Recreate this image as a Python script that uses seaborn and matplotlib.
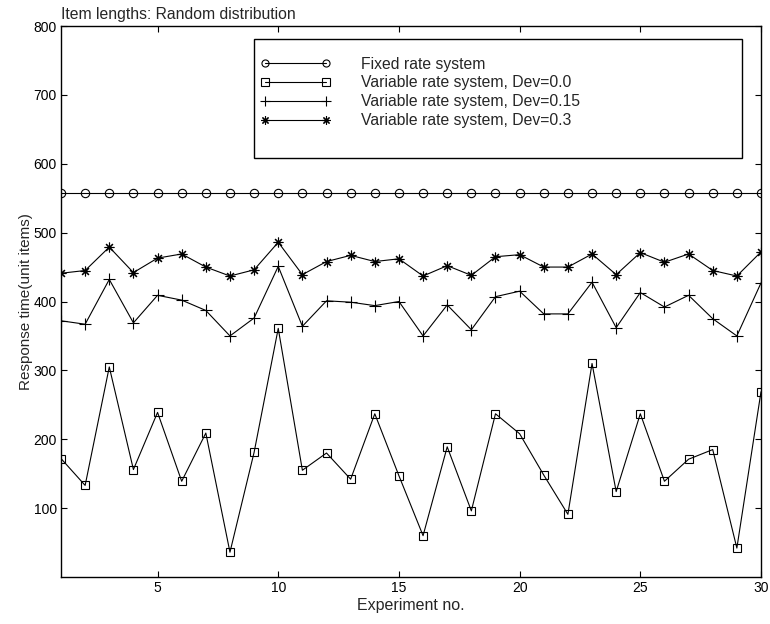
import matplotlib
matplotlib.use("Agg")
import matplotlib.pyplot as plt
from matplotlib.patches import Rectangle
import seaborn as sns
import numpy as np
import pandas as pd

experiments = list(range(1, 31))
fixed_rate = [557] * 30
dev_00 = [172, 133, 305, 156, 239, 139, 209, 36, 181, 361,
          155, 180, 142, 237, 147, 60, 189, 96, 237, 208,
          148, 91, 310, 124, 237, 139, 171, 185, 42, 269]
dev_015 = [372, 367, 432, 369, 409, 402, 387, 350, 376, 451,
           364, 401, 399, 394, 400, 350, 395, 359, 407, 415,
           382, 382, 428, 362, 413, 392, 409, 375, 350, 427]
dev_03 = [441, 445, 479, 442, 463, 469, 450, 437, 446, 486,
          439, 458, 467, 458, 462, 437, 452, 438, 465, 468,
          450, 450, 469, 439, 471, 457, 469, 445, 437, 472]
labels = ["Fixed rate system",
          "Variable rate system, Dev=0.0",
          "Variable rate system, Dev=0.15",
          "Variable rate system, Dev=0.3"]
xticks = [5, 10, 15, 20, 25, 30]
yticks = [100, 200, 300, 400, 500, 600, 700, 800]

sns.set_style("ticks")
plt.rcParams['font.family'] = ['Liberation Sans', 'DejaVu Sans']
plt.rcParams['font.size'] = 10

W, H = 770, 624
L, R, T, B = 61, 761, 26, 577
fig = plt.figure(figsize=(W/100, H/100), dpi=100)
ax = fig.add_axes([L/W, 1-B/H, (R-L)/W, (B-T)/H])
aw, ah = R - L, B - T

series = [fixed_rate, dev_00, dev_015, dev_03]
markers = ['o', 's', '+', (8, 2, 0)]
msizes = [6, 6, 8, 7]
for vals, mk, ms, lab in zip(series, markers, msizes, labels):
    df = pd.DataFrame({"x": experiments, "y": vals})
    sns.lineplot(data=df, x="x", y="y", ax=ax, color="black", linewidth=0.8,
                 marker=mk, markersize=ms, markerfacecolor='none',
                 markeredgecolor='black', markeredgewidth=0.8, label=lab)

ax.set_xlim(1, 30)
ax.set_ylim(0, 800)
ax.set_xticks(xticks)
ax.set_yticks(yticks)
ax.tick_params(direction='in', length=4, width=0.8, top=True, right=True,
               labelsize=10, colors='black', pad=3)
for s in ax.spines.values():
    s.set_visible(True)
    s.set_linewidth(1.0)
    s.set_color('black')
ax.set_xlabel("Experiment no.", fontsize=11.5, labelpad=2)
ax.set_ylabel("Response time(unit items)", fontsize=11, labelpad=0)
ax.set_title("Item lengths: Random distribution", loc='left', fontsize=11.3, pad=5)

fs = 11.3
fpx = fs * 100 / 72
leg = ax.legend(loc='upper left', bbox_to_anchor=((260.3-L)/aw, (B-56.5)/ah),
                frameon=False, borderpad=0, borderaxespad=0, numpoints=2,
                handlelength=70.1/fpx, handletextpad=30.2/fpx, labelspacing=0.245,
                fontsize=fs, markerscale=0.85)
ax.add_patch(Rectangle(((254.3-L)/aw, (B-158.3)/ah), 488/aw, 119.3/ah,
                       transform=ax.transAxes, fill=True, facecolor='white',
                       edgecolor='black', linewidth=1.0, zorder=4))
leg.set_zorder(5)

fig.savefig("out.png", dpi=100)
